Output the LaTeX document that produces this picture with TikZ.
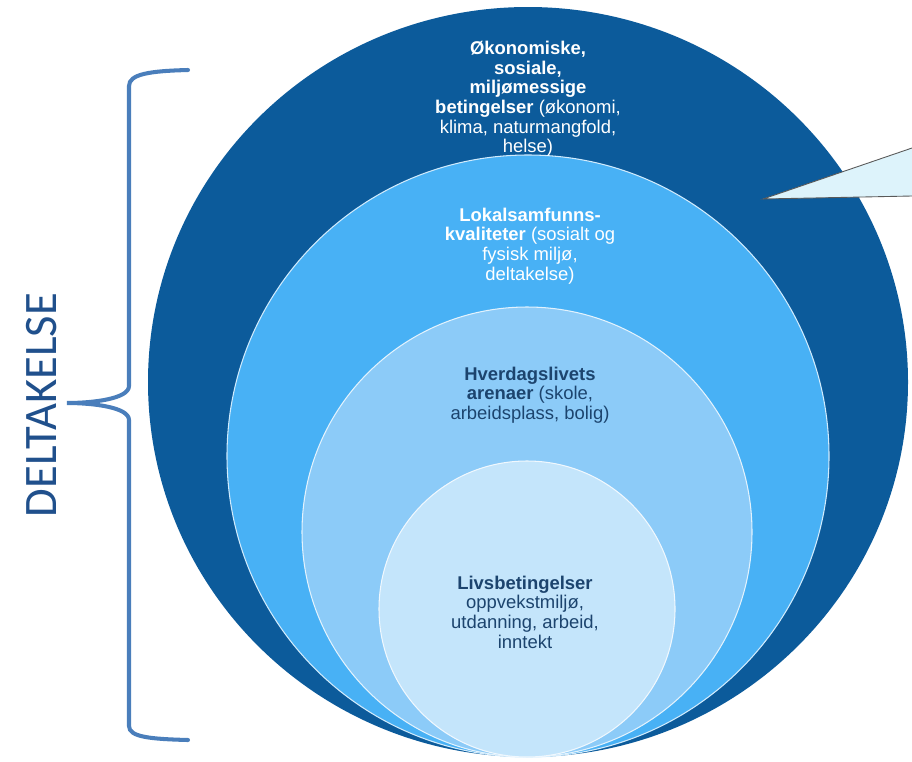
\documentclass[tikz,border=0pt]{standalone}
\usepackage{fontspec}
\setmainfont{Liberation Sans}
\newfontfamily\bracefont{Carlito}
\definecolor{ringouter}{RGB}{12,91,155}
\definecolor{ringlocal}{RGB}{72,177,245}
\definecolor{ringarena}{RGB}{140,203,248}
\definecolor{ringlife}{RGB}{196,229,251}
\definecolor{labeldark}{RGB}{28,68,110}
\definecolor{bracecol}{RGB}{74,126,187}
\definecolor{wordcol}{RGB}{32,80,140}
\definecolor{callout}{RGB}{221,243,251}
\tikzset{
    ringlabel/.style={align=center, font=\fontsize{10.5}{11.2}\selectfont},
    ringedge/.style={draw=white!75!#1, line width=0.6pt}
}
\begin{document}
\begin{tikzpicture}[x=0.02cm, y=-0.02cm]
    \useasboundingbox (0,0) rectangle (912,761);
    % nested rings, all touching at the bottom
    \fill[ringouter] (528,382) ellipse [x radius=380, y radius=375];
    \fill[ringlocal, ringedge=ringlocal] (528,456) circle [radius=301];
    \fill[ringarena, ringedge=ringarena] (527,532) circle [radius=225];
    \fill[ringlife, ringedge=ringlife] (527,609) circle [radius=148];
    % callout wedge
    \fill[callout] (912,148) -- (763,199) -- (912,196) -- cycle;
    \draw[gray!70!black, line width=0.5pt] (912,148) -- (763,199) -- (912,196);
    % labels
    \node[ringlabel, white] (outer) at (528,99) {\textbf{Økonomiske,}\\ \textbf{sosiale,}\\ \textbf{miljømessige}\\ \textbf{betingelser} (økonomi,\\ klima, naturmangfold,\\ helse)};
    \node[ringlabel, white] (local) at (530,246) {\textbf{Lokalsamfunns-}\\ \textbf{kvaliteter} (sosialt og\\ fysisk miljø,\\ deltakelse)};
    \node[ringlabel, labeldark] (arena) at (530,395) {\textbf{Hverdagslivets}\\ \textbf{arenaer} (skole,\\ arbeidsplass, bolig)};
    \node[ringlabel, labeldark] (life) at (525,612) {\textbf{Livsbetingelser}\\ oppvekstmiljø,\\ utdanning, arbeid,\\ inntekt};
    % brace and word
    \draw[bracecol, line width=2.3pt, line cap=round] (188,70) .. controls (150,71) and (129,74) .. (129,86) -- (129,386) .. controls (129,399) and (92,403) .. (67,403) .. controls (92,403) and (129,407) .. (129,420) -- (129,726) .. controls (129,737) and (150,739) .. (188,740);
    \node[wordcol, rotate=90, font=\bracefont\fontsize{26.5}{27}\selectfont] (word) at (42,405) {DELTAKELSE};
\end{tikzpicture}
\end{document}
